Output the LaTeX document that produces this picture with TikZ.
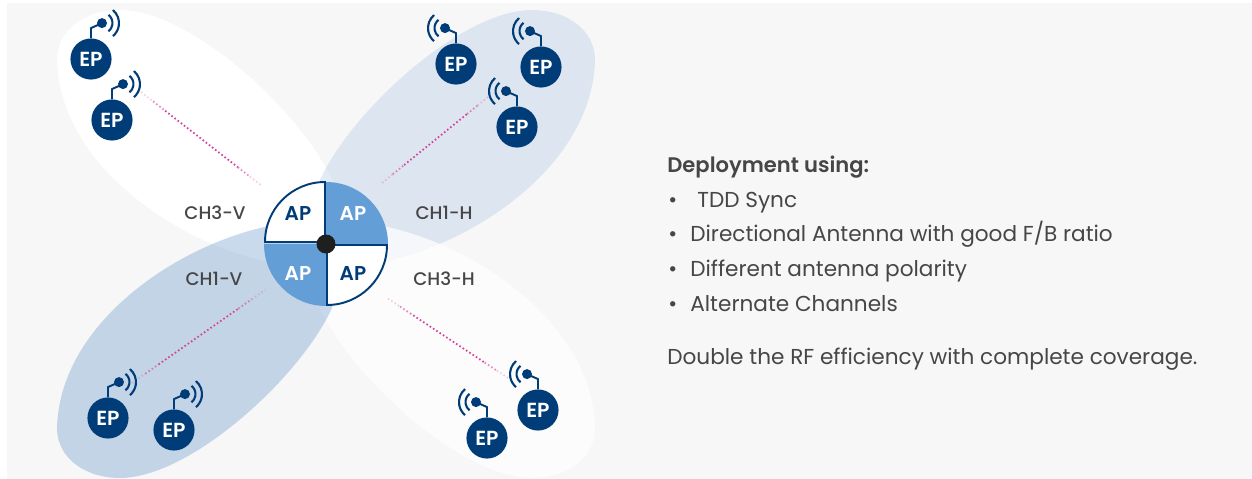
\documentclass[tikz,border=0pt]{standalone}
\usepackage{fontspec}
\setmainfont{Poppins}
\newfontfamily\semifont{Poppins SemiBold}
\newfontfamily\mediumfont{Poppins Medium}
\usetikzlibrary{calc, positioning}

\definecolor{navy}{HTML}{003C78}
\definecolor{apblue}{HTML}{639FD6}
\definecolor{panel}{HTML}{F7F7F7}
\definecolor{bodytext}{HTML}{464646}
\definecolor{linkpink}{HTML}{D6409C}
\definecolor{lobelight}{HTML}{A3BEE3}
\definecolor{lobedark}{HTML}{4D85C5}

\newcommand{\lobepath}{(-206,-234) .. controls (-136,-234) and (-26,-134) .. (6,-64)
    .. controls (24,-19) and (19,24) .. (-26,22)
    .. controls (-116,18) and (-266,-65) .. (-269,-184)
    .. controls (-269,-214) and (-241,-234) .. (-206,-234) -- cycle}

% dotted link that fades out towards both ends
\newcommand{\linkline}[2]{
    \draw[link, draw opacity=0.25] (#1) -- ($(#1)!0.1!(#2)$);
    \draw[link, draw opacity=0.6] ($(#1)!0.1!(#2)$) -- ($(#1)!0.2!(#2)$);
    \draw[link] ($(#1)!0.2!(#2)$) -- ($(#1)!0.8!(#2)$);
    \draw[link, draw opacity=0.6] ($(#1)!0.8!(#2)$) -- ($(#1)!0.9!(#2)$);
    \draw[link, draw opacity=0.25] ($(#1)!0.9!(#2)$) -- (#2);
}

\tikzset{
    epnode/.style={circle, fill=navy, text=white, inner sep=0pt, minimum size=23.4pt, font=\fontsize{11.6}{12}\semifont},
    apnode/.style={inner sep=0pt, font=\fontsize{11.4}{12}\semifont},
    chlabel/.style={inner sep=0pt, text=bodytext, font=\fontsize{10.4}{12}\mediumfont},
    bodyline/.style={anchor=base west, inner sep=0pt, text=bodytext, font=\fontsize{12.3}{14}\selectfont},
    link/.style={draw=linkpink, line width=1pt, dash pattern=on 0.9pt off 1.35pt},
    antenna/.pic={
        \draw[navy, line width=1.1pt] (0,0) -- (0,-10) -- (11,-15);
        \fill[navy] (11,-15) circle[radius=5];
        \draw[navy, line width=1.2pt] ([shift={(-52:10.5)}]11,-15) arc[start angle=-52, end angle=52, radius=10.5];
        \draw[navy, line width=1.2pt] ([shift={(-50:17)}]11,-15) arc[start angle=-50, end angle=50, radius=17];
    }
}

\begin{document}
\begin{tikzpicture}[x=0.02cm, y=-0.02cm]

    \useasboundingbox (0,0) rectangle (1252,479);
    \fill[panel] (7,3) rectangle (1252,479);

    \coordinate (hubcentre) at (326,244);

    % Lobes
    \fill[white, shift={(hubcentre)}] \lobepath;
    \fill[lobelight, fill opacity=0.3, shift={(hubcentre)}, xscale=-1] \lobepath;
    \fill[white, fill opacity=0.72, shift={(hubcentre)}, xscale=-1, yscale=-1] \lobepath;
    \fill[lobedark, fill opacity=0.3, shift={(hubcentre)}, yscale=-1] \lobepath;

    % Links
    \coordinate (linkTLa) at (141,92);  \coordinate (linkTLb) at (262,186);
    \coordinate (linkTRa) at (488,97);  \coordinate (linkTRb) at (382,183);
    \coordinate (linkBLa) at (132,383); \coordinate (linkBLb) at (265,290);
    \coordinate (linkBRa) at (508,378); \coordinate (linkBRb) at (387,298);
    \linkline{linkTLa}{linkTLb}
    \linkline{linkTRa}{linkTRb}
    \linkline{linkBLa}{linkBLb}
    \linkline{linkBRa}{linkBRb}

    % AP quadrants
    \fill[apblue] (hubcentre) -- ++(62,0) arc[start angle=0, end angle=-90, radius=62] -- cycle;
    \fill[apblue] (hubcentre) -- ++(-62,0) arc[start angle=180, end angle=90, radius=62] -- cycle;
    \draw[navy, fill=white, line width=1.1pt] (325,242) -- ++(-60,0) arc[start angle=180, end angle=270, radius=60] -- cycle;
    \draw[navy, fill=white, line width=1.1pt] (327,245) -- ++(60,0) arc[start angle=0, end angle=90, radius=60] -- cycle;
    \node[circle, fill=black!88, inner sep=0pt, minimum size=10.8pt] (hub) at (hubcentre) {};

    \node[apnode, text=navy] (apTL) at (298,214) {AP};
    \node[apnode, text=white] (apTR) at (353,214) {AP};
    \node[apnode, text=white] (apBL) at (298,274) {AP};
    \node[apnode, text=navy] (apBR) at (353,274) {AP};

    % Channel labels
    \node[chlabel] (chTL) at (215,213) {CH3-V};
    \node[chlabel] (chTR) at (444,213) {CH1-H};
    \node[chlabel] (chBL) at (214,279) {CH1-V};
    \node[chlabel] (chBR) at (444,279) {CH3-H};

    % EP nodes
    \foreach \name/\px/\py/\dir in {epA/91/59/1, epB/112/120/1, epC/108/418/1, epD/174/430/1,
                                    epE/456/64/-1, epF/541/67/-1, epG/517/127/-1, epH/538/410/-1, epI/487/438/-1} {
        \node[epnode] (\name) at (\px,\py) {EP};
        \pic[xscale=\dir] at (\name.north) {antenna};
    }

    % Text
    \node[bodyline, font=\fontsize{12}{14}\semifont] (title) at (667,173) {Deployment using:};
    \foreach \name/\ty/\tx/\txt in {itemA/208/697/{TDD Sync}, itemB/242/690/{Directional Antenna with good F/B ratio},
                                    itemC/277/690/{Different antenna polarity}, itemD/312/690/{Alternate Channels}} {
        \node[bodyline] (\name) at (\tx,\ty) {\txt};
        \node[bodyline] (\name b) at (668,\ty) {•};
    }
    \node[bodyline] (closing) at (667,365) {Double the RF efficiency with complete coverage.};

\end{tikzpicture}
\end{document}
